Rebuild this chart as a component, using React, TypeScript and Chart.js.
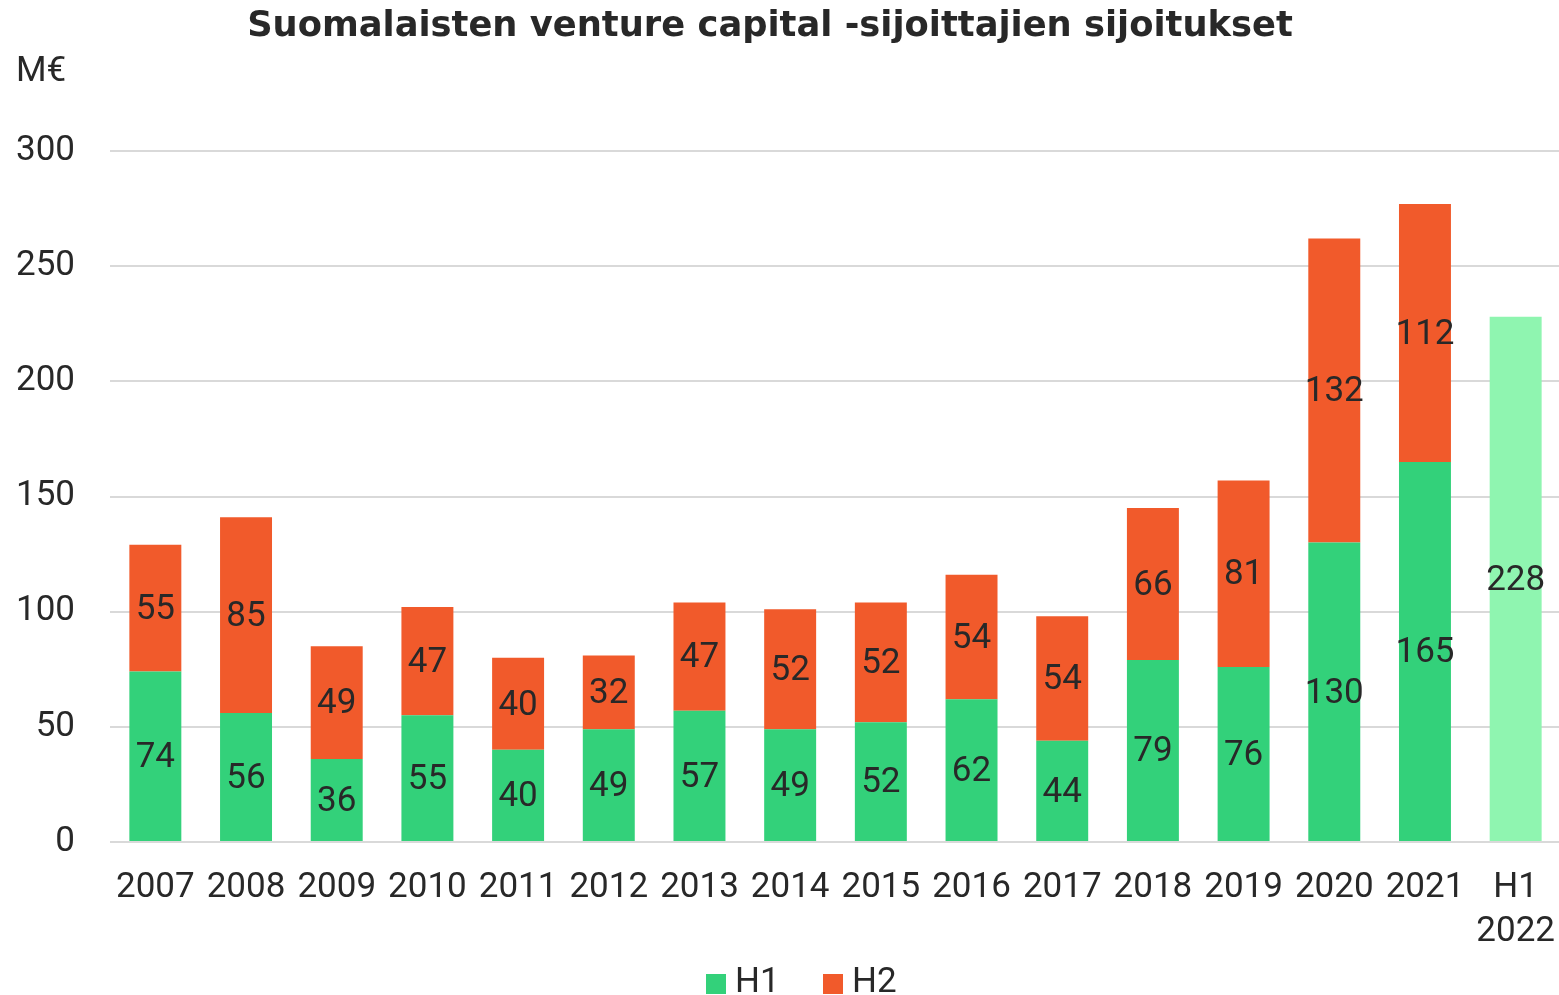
import React, { useEffect, useRef } from "react";
import { Chart, registerables } from "chart.js";

Chart.register(...registerables);

const categories: (string | string[])[] = [
  "2007", "2008", "2009", "2010", "2011", "2012", "2013", "2014",
  "2015", "2016", "2017", "2018", "2019", "2020", "2021", ["H1", "2022"],
];
const h1Values: (number | null)[] = [74, 56, 36, 55, 40, 49, 57, 49, 52, 62, 44, 79, 76, 130, 165, 228];
const h2Values: (number | null)[] = [55, 85, 49, 47, 40, 32, 47, 52, 52, 54, 54, 66, 81, 132, 112, null];
const yTicks: number[] = [0, 50, 100, 150, 200, 250, 300];

const TITLE = "Suomalaisten venture capital -sijoittajien sijoitukset";
const UNIT = "M€";
const GREEN = "#33d17a";
const LIGHT_GREEN = "#8ff5b0";
const ORANGE = "#f15a2b";
const TEXT = "#282828";
const FONT = "Roboto, 'Liberation Sans', sans-serif";
const TITLE_FONT = "'DejaVu Sans', Roboto, sans-serif";
const FS = 35;

const h1Colors = categories.map((c) => (Array.isArray(c) ? LIGHT_GREEN : GREEN));

const labelsPlugin = {
  id: "barLabels",
  afterDatasetsDraw(chart: any) {
    const ctx = chart.ctx;
    ctx.save();
    ctx.font = `400 ${FS}px ${FONT}`;
    ctx.fillStyle = TEXT;
    ctx.textAlign = "center";
    ctx.textBaseline = "middle";
    chart.data.datasets.forEach((ds: any, di: number) => {
      const meta = chart.getDatasetMeta(di);
      meta.data.forEach((bar: any, i: number) => {
        const v = ds.data[i];
        if (v === null || v === undefined) return;
        const y = (bar.y + bar.base) / 2;
        ctx.fillText(String(v), bar.x, y + 2);
      });
    });
    ctx.restore();
  },
};

const decorPlugin = {
  id: "decor",
  afterDraw(chart: any) {
    const ctx = chart.ctx;
    ctx.save();
    ctx.fillStyle = TEXT;
    ctx.textBaseline = "middle";
    // title, sized to span the same width as the original
    ctx.font = `700 34px ${TITLE_FONT}`;
    const w = ctx.measureText(TITLE).width;
    const size = Math.min(40, (34 * 1047) / w);
    ctx.font = `700 ${size.toFixed(1)}px ${TITLE_FONT}`;
    ctx.textAlign = "center";
    ctx.fillText(TITLE, 770, 27);
    // unit
    ctx.font = `400 ${FS}px ${FONT}`;
    ctx.textAlign = "left";
    ctx.fillText(UNIT, 16, 72);
    // legend
    const items = chart.data.datasets.map((ds: any) => ({
      label: ds.label,
      color: Array.isArray(ds.backgroundColor) ? ds.backgroundColor[0] : ds.backgroundColor,
    }));
    const xs = [706, 823];
    items.forEach((it: any, i: number) => {
      const x = xs[i];
      ctx.fillStyle = it.color;
      ctx.fillRect(x, 974, 20, 20);
      ctx.fillStyle = TEXT;
      ctx.fillText(it.label, x + 29, 983);
    });
    ctx.restore();
  },
};

export default function App() {
  const ref = useRef<HTMLCanvasElement | null>(null);
  useEffect(() => {
    if (!ref.current) return;
    const chart = new Chart(ref.current, {
      type: "bar",
      data: {
        labels: categories,
        datasets: [
          {
            label: "H1",
            data: h1Values,
            backgroundColor: h1Colors,
            barPercentage: 0.573,
            categoryPercentage: 1,
          },
          {
            label: "H2",
            data: h2Values,
            backgroundColor: ORANGE,
            barPercentage: 0.573,
            categoryPercentage: 1,
          },
        ],
      },
      options: {
        animation: false,
        responsive: false,
        maintainAspectRatio: false,
        layout: { padding: { top: 151, right: 0, bottom: 0, left: 0 } },
        plugins: {
          legend: { display: false },
          title: { display: false },
          tooltip: { enabled: false },
        },
        scales: {
          x: {
            stacked: true,
            grid: { display: false, drawTicks: false },
            border: { display: false },
            ticks: {
              color: TEXT,
              font: { family: FONT, size: FS, lineHeight: 1.26 },
              padding: 24,
              maxRotation: 0,
              autoSkip: false,
            },
            afterFit(scale: any) {
              scale.height = 153;
              scale.paddingLeft = 0;
              scale.paddingRight = 0;
            },
          },
          y: {
            stacked: true,
            min: 0,
            max: 300,
            afterBuildTicks(scale: any) {
              scale.ticks = yTicks.map((v) => ({ value: v }));
            },
            grid: { color: "#d9d9d9", lineWidth: 2, drawTicks: false },
            border: { display: false },
            ticks: {
              color: TEXT,
              font: { family: FONT, size: FS },
              padding: 35,
            },
            afterFit(scale: any) {
              scale.width = 110;
            },
          },
        },
      },
      plugins: [labelsPlugin, decorPlugin],
    });
    return () => chart.destroy();
  }, []);
  return (
    <div style={{ position: "fixed", left: 0, top: 0, width: 1559, height: 995, overflow: "hidden", background: "#fff" }}>
      <canvas ref={ref} width={1561} height={995} style={{ display: "block", width: 1561, height: 995 }} />
    </div>
  );
}
